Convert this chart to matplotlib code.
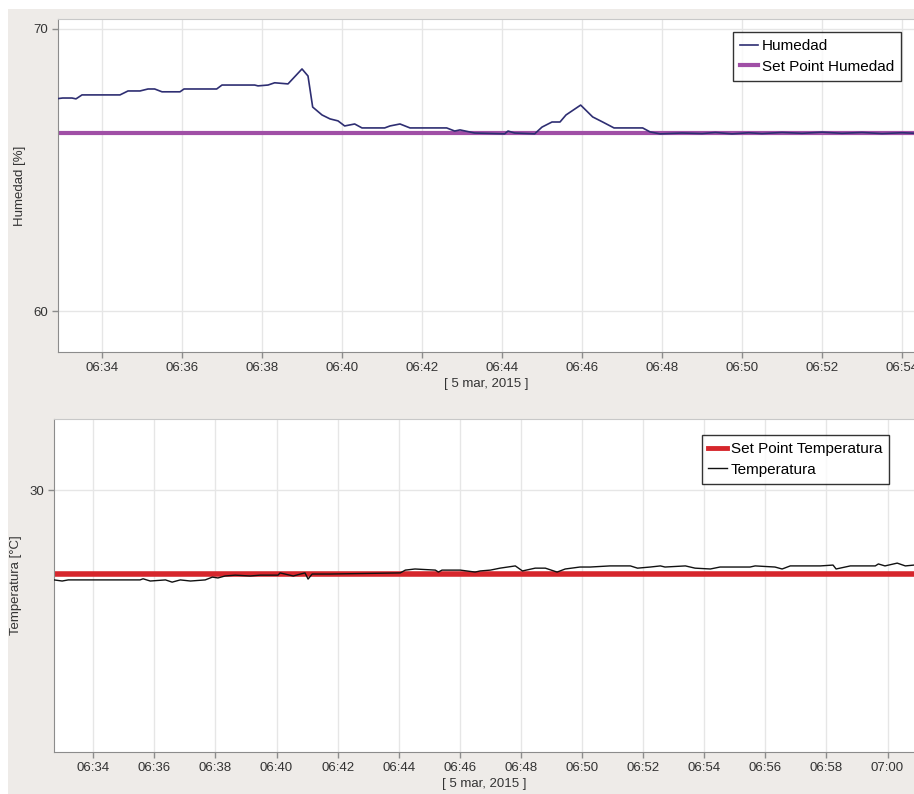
import pandas as pd
import matplotlib
matplotlib.use("Agg")
import matplotlib.pyplot as plt
import matplotlib.dates as mdates
from matplotlib.patches import Rectangle
from matplotlib.lines import Line2D

plt.rcParams['font.family'] = ['Liberation Sans', 'DejaVu Sans']

fecha = "2015-03-05 "

# humedad [%]
hum_horas = ["06:32:54", "06:33:01", "06:33:15", "06:33:21", "06:33:30", "06:34:27", "06:34:39",
             "06:34:57", "06:35:09", "06:35:19", "06:35:30", "06:35:57", "06:36:03", "06:36:52",
             "06:37:00", "06:37:49", "06:37:54", "06:38:09", "06:38:19", "06:38:39", "06:39:00",
             "06:39:09", "06:39:16", "06:39:30", "06:39:42", "06:39:54", "06:40:04", "06:40:19",
             "06:40:30", "06:41:04", "06:41:12", "06:41:27", "06:41:42", "06:42:37", "06:42:49",
             "06:42:57", "06:43:19", "06:44:04", "06:44:09", "06:44:19", "06:44:49", "06:45:00",
             "06:45:15", "06:45:27", "06:45:36", "06:45:58", "06:46:16", "06:46:31", "06:46:48",
             "06:47:31", "06:47:42", "06:47:57", "06:48:30", "06:49:00", "06:49:20", "06:49:45",
             "06:50:10", "06:50:30", "06:51:00", "06:51:30", "06:52:00", "06:52:30", "06:53:00",
             "06:53:30", "06:54:00", "06:54:20"]
humedad = [67.53, 67.55, 67.55, 67.52, 67.66, 67.66, 67.80,
           67.80, 67.87, 67.87, 67.77, 67.77, 67.87, 67.87,
           68.01, 68.01, 67.98, 68.01, 68.09, 68.05, 68.58,
           68.33, 67.23, 66.95, 66.81, 66.74, 66.56, 66.63,
           66.49, 66.49, 66.56, 66.63, 66.49, 66.49, 66.38,
           66.42, 66.31, 66.28, 66.38, 66.31, 66.28, 66.52,
           66.70, 66.70, 66.95, 67.30, 66.88, 66.70, 66.49,
           66.49, 66.35, 66.28, 66.31, 66.29, 66.33, 66.28,
           66.32, 66.29, 66.33, 66.30, 66.34, 66.30, 66.33,
           66.29, 66.32, 66.30]
sp_humedad = 66.3

# temperatura [°C]
temp_horas = ["06:32:43", "06:32:59", "06:33:11", "06:35:32", "06:35:38", "06:35:52", "06:36:22",
              "06:36:35", "06:36:51", "06:37:11", "06:37:40", "06:37:54", "06:38:05", "06:38:19",
              "06:38:39", "06:39:08", "06:39:28", "06:40:03", "06:40:07", "06:40:33", "06:40:47",
              "06:40:56", "06:41:02", "06:41:10", "06:41:45", "06:44:03", "06:44:13", "06:44:32",
              "06:45:12", "06:45:18", "06:45:25", "06:46:01", "06:46:30", "06:46:40", "06:47:00",
              "06:47:19", "06:47:49", "06:48:03", "06:48:28", "06:48:48", "06:49:11", "06:49:27",
              "06:49:56", "06:50:16", "06:50:55", "06:51:35", "06:51:49", "06:52:14", "06:52:34",
              "06:52:43", "06:53:23", "06:53:42", "06:54:12", "06:54:31", "06:55:30", "06:55:40",
              "06:56:19", "06:56:33", "06:56:49", "06:57:48", "06:58:13", "06:58:19", "06:58:47",
              "06:59:36", "06:59:42", "06:59:55", "07:00:19", "07:00:35", "07:00:52"]
temperatura = [26.79, 26.75, 26.79, 26.79, 26.83, 26.75, 26.79,
               26.71, 26.79, 26.75, 26.79, 26.89, 26.86, 26.93,
               26.96, 26.93, 26.96, 26.96, 27.04, 26.93, 27.00,
               27.04, 26.82, 27.00, 27.00, 27.04, 27.14, 27.18,
               27.14, 27.07, 27.14, 27.14, 27.07, 27.11, 27.14,
               27.21, 27.29, 27.11, 27.21, 27.21, 27.07, 27.18,
               27.25, 27.25, 27.29, 27.29, 27.21, 27.25, 27.29,
               27.25, 27.29, 27.21, 27.18, 27.25, 27.25, 27.29,
               27.25, 27.18, 27.29, 27.29, 27.32, 27.18, 27.29,
               27.29, 27.36, 27.29, 27.39, 27.29, 27.32]
sp_temperatura = 27.0

t_hum = pd.to_datetime([fecha + h for h in hum_horas])
t_temp = pd.to_datetime([fecha + h for h in temp_horas])

W, H = 914, 794
fig = plt.figure(figsize=(W / 100, H / 100), dpi=100, facecolor="white")
# fondo gris del panel
fig.patches.append(Rectangle((8 / W, 0), 1, 1 - 9 / H, transform=fig.transFigure,
                             facecolor="#EEEBE8", edgecolor="none", zorder=-10))

gris_grid = "#E6E6E6"
gris_eje = "#8C8C8C"
txt = "#333333"


def estilo(ax):
    ax.set_facecolor("white")
    ax.spines["right"].set_visible(False)
    ax.spines["top"].set_color("#C8C8C8")
    ax.spines["left"].set_color(gris_eje)
    ax.spines["bottom"].set_color(gris_eje)
    ax.grid(True, color=gris_grid, linewidth=1)
    ax.set_axisbelow(True)
    ax.tick_params(length=4, width=1, color=gris_eje, labelcolor=txt, labelsize=9.5, pad=3)
    ax.xaxis.set_major_locator(mdates.MinuteLocator(byminute=range(0, 60, 2)))
    ax.xaxis.set_major_formatter(mdates.DateFormatter("%H:%M"))
    ax.set_xlabel("[ 5 mar, 2015 ]", fontsize=9.5, color=txt, labelpad=3)


def leyenda(ax, handles, labels, x, y):
    leg = ax.legend(handles, labels, loc="upper right",
                    bbox_to_anchor=(x / W, 1 - y / H), bbox_transform=fig.transFigure,
                    fontsize=11, frameon=True, fancybox=False, borderaxespad=0,
                    handlelength=1.2, handletextpad=0.25, borderpad=0.45, labelspacing=0.45)
    leg.get_frame().set_edgecolor("black")
    leg.get_frame().set_linewidth(1)
    return leg


# grafico humedad
ax1 = fig.add_axes([58 / W, 1 - 352 / H, (W - 58) / W, 333 / H])
estilo(ax1)
ax1.axhline(sp_humedad, color="#A04FA6", linewidth=3, zorder=2)
ax1.plot(t_hum, humedad, color="#2E2E72", linewidth=1.2, zorder=3)
ax1.set_xlim(pd.Timestamp(fecha + "06:32:54"), pd.Timestamp(fecha + "06:54:18"))
ax1.set_ylim(58.55, 70.35)
ax1.set_yticks([60, 70])
ax1.set_ylabel("Humedad [%]", fontsize=9.5, color=txt)
ax1.yaxis.set_label_coords(-32 / (W - 58), 0.5)
leyenda(ax1, [Line2D([], [], color="#2E2E72", linewidth=1.2),
              Line2D([], [], color="#A04FA6", linewidth=3)],
        ["Humedad", "Set Point Humedad"], 901, 32)

# grafico temperatura
ax2 = fig.add_axes([54 / W, 1 - 752 / H, (W - 54) / W, 333 / H])
estilo(ax2)
ax2.axhline(sp_temperatura, color="#D6262C", linewidth=4, zorder=2)
ax2.plot(t_temp, temperatura, color="#111111", linewidth=1, zorder=3)
ax2.set_xlim(pd.Timestamp(fecha + "06:32:43"), pd.Timestamp(fecha + "07:00:52"))
ax2.set_ylim(20.64, 32.54)
ax2.set_yticks([30])
ax2.set_ylabel("Temperatura [°C]", fontsize=9.5, color=txt)
ax2.yaxis.set_label_coords(-32 / (W - 54), 0.5)
leyenda(ax2, [Line2D([], [], color="#D6262C", linewidth=3.5),
              Line2D([], [], color="#111111", linewidth=1)],
        ["Set Point Temperatura", "Temperatura"], 889, 435)

fig.savefig("out.png", dpi=100)
